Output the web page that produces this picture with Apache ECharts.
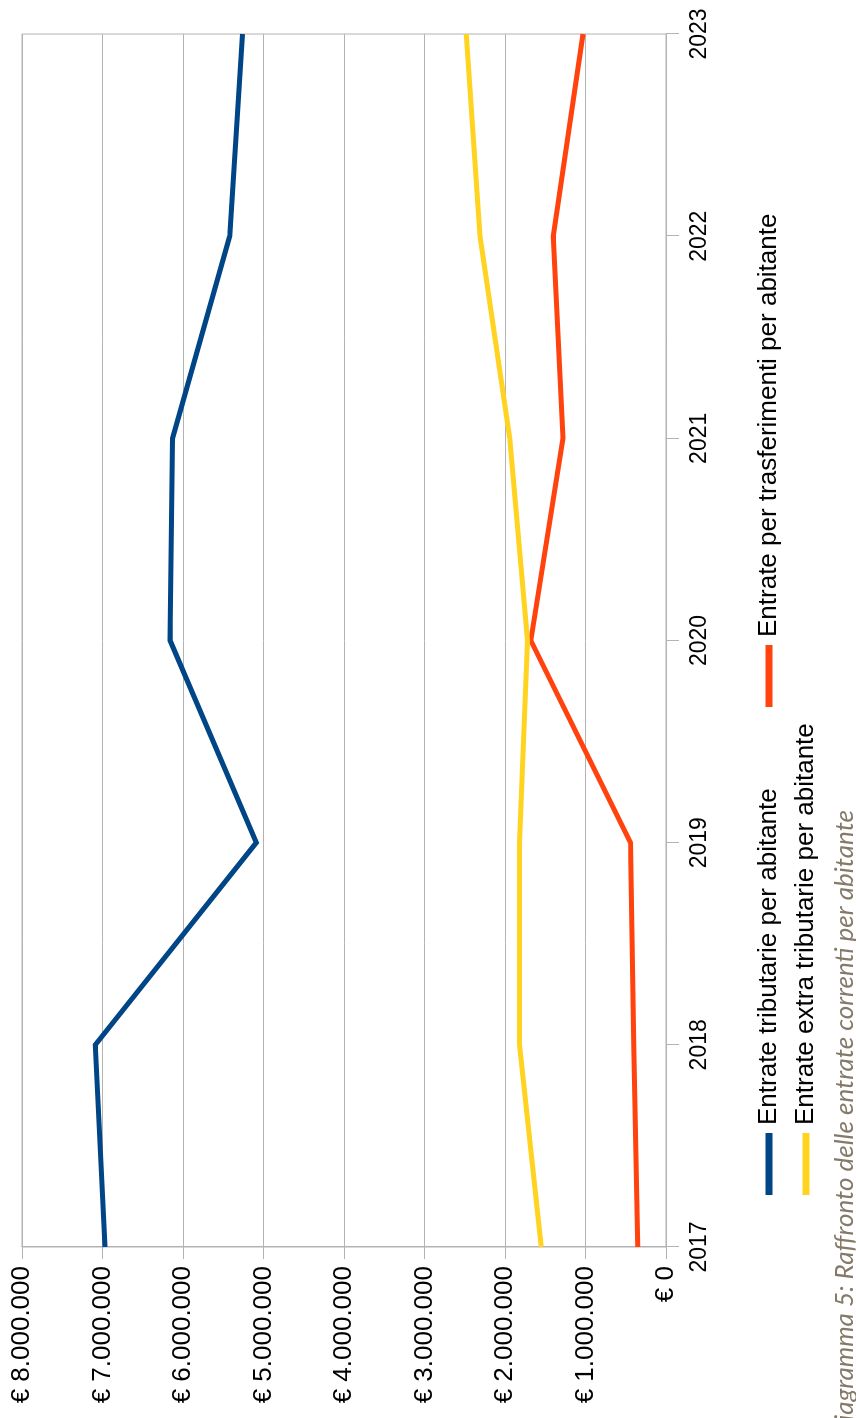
<!DOCTYPE html>
<html>
<head>
<meta charset="utf-8">
<script src="https://cdn.jsdelivr.net/npm/echarts@6/dist/echarts.min.js"></script>
<style>
  html, body { margin: 0; padding: 0; background: #fff; overflow: hidden; width: 856px; height: 1418px; }
  /* The chart is laid out landscape and turned a quarter turn to sit upright on the page */
  #chart { position: absolute; left: 0; top: 0; width: 1418px; height: 856px;
           transform-origin: 0 0; transform: translateY(1418px) rotate(-90deg); }
</style>
</head>
<body>
<div id="chart"></div>
<script>
const years = ['2017', '2018', '2019', '2020', '2021', '2022', '2023'];
const tributarie = [6970000, 7090000, 5090000, 6160000, 6130000, 5420000, 5260000];
const extraTributarie = [1550000, 1820000, 1820000, 1720000, 1940000, 2310000, 2480000];
const trasferimenti = [350000, 400000, 440000, 1680000, 1280000, 1400000, 1030000];

const seriesNames = [
  'Entrate tributarie per abitante',
  'Entrate extra tributarie per abitante',
  'Entrate per trasferimenti per abitante'
];
const caption = 'Diagramma 5: Raffronto delle entrate correnti per abitante';

const colors = { blue: '#004586', yellow: '#ffd320', orange: '#ff420e' };
const gridGray = '#b3b3b3';
const sans = '"Liberation Sans", Arial, sans-serif';

function euro(v) {
  return '€ ' + String(v).replace(/\B(?=(\d{3})+(?!\d))/g, '.');
}

function legendAt(name, left, top) {
  return {
    data: [name], left: left, top: top, padding: 0, orient: 'horizontal',
    icon: 'rect', itemWidth: 62, itemHeight: 7, selectedMode: false,
    textStyle: { fontFamily: sans, fontSize: 26, color: '#000', lineHeight: 30, padding: [0, 0, 0, 3] }
  };
}

const chart = echarts.init(document.getElementById('chart'), null, { renderer: 'canvas' });
chart.setOption({
  animation: false,
  backgroundColor: '#fff',
  grid: { left: 171, right: 34, top: 22, bottom: 190, show: true, borderColor: gridGray, borderWidth: 1 },
  legend: [
    legendAt(seriesNames[0], 223, 754),
    legendAt(seriesNames[2], 711, 754),
    legendAt(seriesNames[1], 223, 791)
  ],
  xAxis: {
    type: 'category', data: years, boundaryGap: false,
    axisLine: { show: true, lineStyle: { color: gridGray, width: 1 } },
    axisTick: { show: true, length: 13, lineStyle: { color: gridGray } },
    splitLine: { show: false },
    axisLabel: { fontFamily: sans, fontSize: 23, color: '#000', margin: 22 }
  },
  yAxis: {
    type: 'value', min: 0, max: 8000000, interval: 1000000,
    axisLine: { show: true, lineStyle: { color: gridGray, width: 1 } },
    axisTick: { show: true, length: 12, lineStyle: { color: gridGray } },
    splitLine: { show: true, lineStyle: { color: gridGray, width: 1 } },
    axisLabel: { fontFamily: sans, fontSize: 26, color: '#000', margin: 19, formatter: euro }
  },
  series: [
    { name: seriesNames[0], type: 'line', data: tributarie, showSymbol: false,
      color: colors.blue, lineStyle: { width: 5, join: 'miter' }, z: 2 },
    { name: seriesNames[2], type: 'line', data: trasferimenti, showSymbol: false,
      color: colors.orange, lineStyle: { width: 5, join: 'miter' }, z: 3 },
    { name: seriesNames[1], type: 'line', data: extraTributarie, showSymbol: false,
      color: colors.yellow, lineStyle: { width: 5, join: 'miter' }, z: 4 }
  ],
  graphic: [{
    type: 'text', x: 608, y: 845,
    style: {
      text: caption, align: 'right', verticalAlign: 'middle',
      font: 'italic 26px Lato, "Open Sans", sans-serif', fill: '#857a69'
    }
  }]
});
</script>
</body>
</html>
